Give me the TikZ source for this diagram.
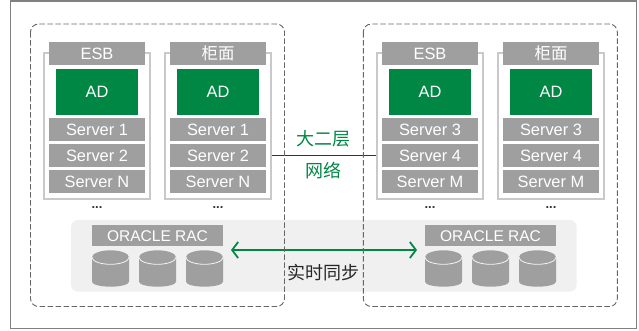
\documentclass[tikz,border=0pt]{standalone}
\usepackage{fontspec}
\setmainfont{Liberation Sans}
\newfontfamily\cjk{Noto Sans CJK SC}
\usetikzlibrary{arrows.meta}
\definecolor{vert}{RGB}{0, 135, 68}
\definecolor{gris}{RGB}{158, 159, 158}
\definecolor{clair}{RGB}{200, 201, 200}
\definecolor{fond}{RGB}{240, 240, 240}
\tikzset{
    outerframe/.style={draw=gray, line width=1.2pt},
    zone/.style={draw=black!60, dashed, dash pattern=on 5.5pt off 2.5pt, line width=0.9pt, rounded corners=8pt},
    stackbox/.style={draw=clair, fill=white, line width=1.2pt, minimum width=106pt, minimum height=146pt, inner sep=0pt},
    graybox/.style={fill=gris, text=white, font=\fontsize{16.4}{16}\selectfont, minimum width=96pt, minimum height=23pt, inner sep=0pt},
    adbox/.style={fill=vert, text=white, font=\fontsize{16.4}{16}\selectfont, minimum width=82pt, minimum height=46pt, inner sep=0pt},
    racbox/.style={fill=gris, text=white, font=\fontsize{15.5}{15}\selectfont, minimum width=131pt, minimum height=21.5pt, inner sep=0pt},
    dots/.style={font=\bfseries\fontsize{13}{13}\selectfont, text=black!80, inner sep=0pt},
    netlabel/.style={text=vert, font=\cjk\fontsize{18}{18}\selectfont, inner sep=0pt},
}
% une colonne : nom, x, titre, trois serveurs
\newcommand*\stack[6]{
    \node[stackbox] (#1) at (#2, 126) {};
    \node[graybox] (#1head) at (#2, 53.5) {#3};
    \node[adbox] (#1ad) at (#2, 92) {AD};
    \node[graybox] (#1a) at (#2, 129.5) {#4};
    \node[graybox] (#1b) at (#2, 155.5) {#5};
    \node[graybox] (#1c) at (#2, 181.5) {#6};
    \node[dots] (#1dots) at (#2, 208) {...};
}
% un disque : centre x
\newcommand*\disk[1]{
    \fill[gris] (#1-18.5, 257.3) arc[start angle=180, end angle=360, x radius=18.5, y radius=7]
        -- (#1+18.5, 281.7) arc[start angle=0, end angle=180, x radius=18.5, y radius=5] -- cycle;
    \draw[white!90!gris, line width=0.8pt] (#1-18.5, 257.3) arc[start angle=180, end angle=0, x radius=18.5, y radius=7];
}
\newcommand*\rac[2]{
    \node[racbox] (#1) at (#2, 235.7) {ORACLE RAC};
    \disk{#2-47}
    \disk{#2}
    \disk{#2+47}
}

\begin{document}
\begin{tikzpicture}[x=1pt, y=-1pt]
    \useasboundingbox (0,0) rectangle (639,330);
    \draw[outerframe] (10.5,1) rectangle (636.7,328.7);

    % Fond commun
    \fill[fond, rounded corners=7pt] (71,220) rectangle (576.7,291.7);

    % Colonnes
    \stack{esbl}{97}{ESB}{Server 1}{Server 2}{Server N}
    \stack{guil}{218}{\cjk 柜面}{Server 1}{Server 2}{Server N}
    \stack{esbr}{430}{ESB}{Server 3}{Server 4}{Server M}
    \stack{guir}{551}{\cjk 柜面}{Server 3}{Server 4}{Server M}

    % Bases
    \rac{racl}{157.5}
    \rac{racr}{490.5}

    % Liaison
    \draw[vert!60!black, line width=0.7pt] (guil.east |- guilb) -- (esbr.west |- esbrb);
    \node[netlabel] (net) at (323, 138.5) {大二层};
    \node[netlabel] (netb) at (323, 170.5) {网络};

    % Synchro
    \coordinate (syncl) at (231, 250);
    \coordinate (syncr) at (417, 250);
    \draw[vert, line width=1.8pt, {Straight Barb[length=6pt,width=16pt]}-{Straight Barb[length=6pt,width=16pt]}] (syncl) -- (syncr);
    \node[font=\cjk\fontsize{18}{18}\selectfont, text=black!85, inner sep=0pt] (sync) at (323, 273) {实时同步};

    % Zones
    \draw[zone] (30.5,24) rectangle (284.5,306.5);
    \draw[zone] (363.3,24) rectangle (617.3,306.5);
\end{tikzpicture}
\end{document}
